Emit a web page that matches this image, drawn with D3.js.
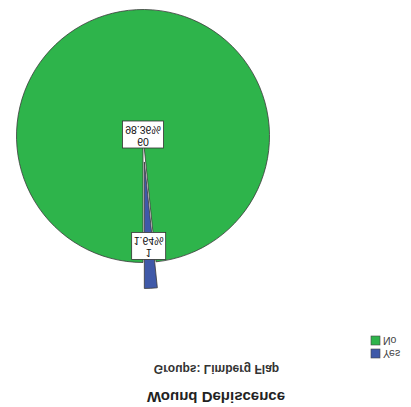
<!DOCTYPE html>
<html>
<head>
<meta charset="utf-8">
<script src="https://cdn.jsdelivr.net/npm/d3@7"></script>
<style>
  body { margin: 0; background: #fff; }
  svg { display: block; font-family: "Liberation Sans", Arial, sans-serif; }
</style>
</head>
<body>
<svg id="chart" width="411" height="407"></svg>
<script>
// slices, in drawing order (clockwise from 12 o'clock)
var categories = ['Yes', 'No'];
var counts = [1, 60];
var colors = ['#3f59a8', '#2eb44b'];
// legend order as shown
var legendOrder = ['Yes', 'No'];
var title = 'Wound Dehiscence';
var subtitle = 'Groups: Limberg Flap';

var width = 411, height = 407;
var svg = d3.select('#chart');

// the reference is mirrored top-to-bottom, so draw everything in a flipped group
var g = svg.append('g')
	.attr('transform', 'translate(0,' + height + ') scale(1,-1)');

var total = d3.sum(counts);
var data = categories.map(function (c, i) {
	return { name: c, count: counts[i], color: colors[i] };
});

var cx = 143, cy = 271, r = 126.5, explode = 26;

var pie = d3.pie().sort(null).value(function (d) { return d.count; });
var arc = d3.arc().innerRadius(0).outerRadius(r);
var arcs = pie(data);

function midAngle(d) { return (d.startAngle + d.endAngle) / 2; }
function isSmall(d) { return (d.endAngle - d.startAngle) < Math.PI; }

var slices = g.append('g')
	.attr('transform', 'translate(' + cx + ',' + cy + ')');

// big slice first, exploded small one on top
slices.selectAll('path')
	.data(arcs.slice().reverse())
	.enter().append('path')
	.attr('d', arc)
	.attr('fill', function (d) { return d.data.color; })
	.attr('stroke', '#3a3a3a')
	.attr('stroke-width', 0.8)
	.attr('transform', function (d) {
		if (!isSmall(d)) return null;
		var a = midAngle(d);
		return 'translate(' + (explode * Math.sin(a)) + ',' + (-explode * Math.cos(a)) + ')';
	});

// value labels: count on first line, percent on second
var fmt = d3.format('.2f');
var labels = slices.selectAll('g.lbl')
	.data(arcs)
	.enter().append('g')
	.attr('class', 'lbl')
	.attr('transform', function (d) {
		var lr = isSmall(d) ? r * 0.87 : 0;
		var a = midAngle(d);
		return 'translate(' + (lr * Math.sin(a)) + ',' + (-lr * Math.cos(a) + (isSmall(d) ? 0 : 1.5)) + ')';
	});

labels.append('rect')
	.attr('x', function (d) { return isSmall(d) ? -17 : -20.5; })
	.attr('y', -13.5)
	.attr('width', function (d) { return isSmall(d) ? 34 : 41; })
	.attr('height', 27)
	.attr('fill', '#fff')
	.attr('stroke', '#333')
	.attr('stroke-width', 0.8);

labels.append('text')
	.attr('text-anchor', 'middle')
	.attr('y', -3)
	.attr('font-size', 10.5)
	.attr('fill', '#111')
	.text(function (d) { return d.data.count; });

labels.append('text')
	.attr('text-anchor', 'middle')
	.attr('y', 9)
	.attr('font-size', 10.5)
	.attr('fill', '#111')
	.text(function (d) { return fmt(d.data.count / total * 100) + '%'; });

// titles
g.append('text')
	.attr('x', 216)
	.attr('y', 15)
	.attr('text-anchor', 'middle')
	.attr('font-size', 15)
	.attr('font-weight', 'bold')
	.attr('fill', '#222')
	.text(title);

g.append('text')
	.attr('x', 216.5)
	.attr('y', 42)
	.attr('text-anchor', 'middle')
	.attr('font-size', 12)
	.attr('font-weight', 'bold')
	.attr('fill', '#333')
	.text(subtitle);

// legend
var legend = g.append('g').attr('transform', 'translate(371,49)');
var li = legend.selectAll('g')
	.data(legendOrder)
	.enter().append('g')
	.attr('transform', function (d, i) { return 'translate(0,' + (i * 13) + ')'; });

li.append('rect')
	.attr('width', 9)
	.attr('height', 9)
	.attr('fill', function (d) { return colors[categories.indexOf(d)]; })
	.attr('stroke', '#444')
	.attr('stroke-width', 0.6);

li.append('text')
	.attr('x', 12)
	.attr('y', 8)
	.attr('font-size', 10.5)
	.attr('fill', '#444')
	.text(function (d) { return d; });
</script>
</body>
</html>
